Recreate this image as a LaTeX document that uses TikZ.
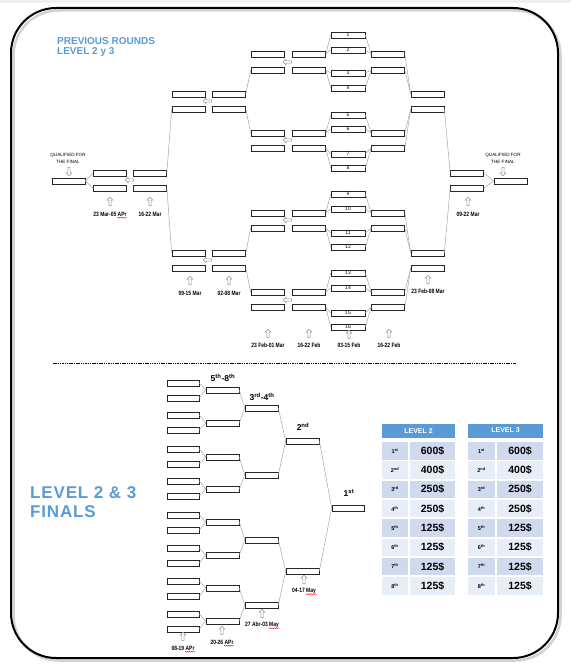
\documentclass[tikz,border=0pt]{standalone}
\usepackage{fontspec}
\setmainfont{Liberation Sans}
\newfontfamily\condfont[FakeStretch=0.8]{Liberation Sans}
\usetikzlibrary{decorations.pathmorphing, shapes.arrows}
\definecolor{titleblue}{HTML}{5B9BD5}
\definecolor{rowdark}{HTML}{CFDAEE}
\definecolor{rowlight}{HTML}{E8EEF7}
\definecolor{linkgray}{HTML}{A6A6A6}

\begin{document}
\begin{tikzpicture}[x=1pt, y=-1pt,
		slot/.style={rectangle, draw=black!85, fill=white, line width=0.7pt, minimum width=33pt, minimum height=6pt, inner sep=0pt, font=\fontsize{5}{5}\selectfont},
		link/.style={draw=linkgray, line width=0.5pt},
		hint/.style={single arrow, draw=gray!85, fill=white, line width=0.5pt, minimum height=8.5pt, minimum width=6pt, single arrow head extend=1.6pt, single arrow tip angle=90, single arrow head indent=0pt, inner sep=0.8pt},
		goleft/.style={hint, shape border rotate=180},
		goup/.style={hint, shape border rotate=90},
		godown/.style={hint, shape border rotate=270},
		when/.style={inner sep=0.5pt, font=\condfont\bfseries\fontsize{6.2}{6.2}\selectfont},
		squig/.style={red, line width=0.35pt, decorate, decoration={snake, amplitude=0.45pt, segment length=1.8pt}},
		note/.style={inner sep=0pt, font=\fontsize{4.6}{5}\selectfont},
		heading/.style={anchor=west, inner sep=0pt, text=titleblue, font=\bfseries\fontsize{10}{10}\selectfont},
		place/.style={inner sep=0pt, font=\bfseries\fontsize{8.5}{8.5}\selectfont},
		hdr/.style={rectangle, fill=titleblue, text=white, inner sep=0pt, minimum height=14pt, font=\bfseries\fontsize{7}{7}\selectfont},
		cell/.style={rectangle, inner sep=0pt, minimum height=17.5pt}
	]
		\useasboundingbox (0,0) rectangle (571,669);
		\fill[gray!12] (0,0) rectangle (571,3);
		\draw[gray!35, line width=2.5pt, rounded corners=45pt] (13.5,10.5) rectangle (560.5,660.5);
		\draw[black, line width=2pt, rounded corners=45pt] (11,8) rectangle (558,658);
		
		% Titles
		\node[heading] (prev1) at (57,41) {PREVIOUS ROUNDS};
		\node[heading] (prev2) at (57,52) {LEVEL 2 y 3};
		\node[heading, font=\bfseries\fontsize{17}{17}\selectfont\addfontfeatures{LetterSpace=5}] (fin1) at (30,493) {LEVEL 2 \& 3};
		\node[heading, font=\bfseries\fontsize{17}{17}\selectfont\addfontfeatures{LetterSpace=5}] (fin2) at (30,512) {FINALS};
		
		% Previous rounds: slots
		\node[slot] (a) at (68.5,181) {};
		\node[slot] (q) at (510.5,181) {};
		\foreach \y [count=\i] in {173,188} {
			\node[slot] (b\i) at (110,\y) {};
			\node[slot] (c\i) at (150,\y) {};
			\node[slot] (k\i) at (467,\y) {};
		}
		\foreach \y [count=\i] in {94,109,253,268} {
			\node[slot] (d\i) at (188.5,\y) {};
			\node[slot] (e\i) at (229,\y) {};
			\node[slot] (j\i) at (427.5,\y) {};
		}
		\foreach \y [count=\i] in {54,70,133,148,213,228,292,307} {
			\node[slot] (f\i) at (267.5,\y) {};
			\node[slot] (g\i) at (309,\y) {};
			\node[slot] (i\i) at (388,\y) {};
		}
		\foreach \y [count=\i] in {35,50,73,88,115,129,154,168,194,209,233,247,273,288,313,327}
			\node[slot, minimum width=34pt] (n\i) at (348,\y) {\i};
		
		% Previous rounds: links
		\draw[link] (a.east) -- (b1.west);
		\draw[link] (a.east) -- (b2.west);
		\draw[link] (c1.east) -- (d2.west);
		\draw[link] (c2.east) -- (d3.west);
		\draw[link] (e1.east) -- (f2.west);
		\draw[link] (e2.east) -- (f3.west);
		\draw[link] (e3.east) -- (f6.west);
		\draw[link] (e4.east) -- (f7.west);
		\foreach \k in {1,...,8} {
			\pgfmathtruncatemacro\u{2*\k-1}
			\pgfmathtruncatemacro\v{2*\k}
			\draw[link] (g\k.east) -- (n\u.west);
			\draw[link] (g\k.east) -- (n\v.west);
			\draw[link] (n\u.east) -- (i\k.west);
			\draw[link] (n\v.east) -- (i\k.west);
		}
		\foreach \k in {1,...,4} {
			\pgfmathtruncatemacro\u{2*\k-1}
			\pgfmathtruncatemacro\v{2*\k}
			\draw[link] (i\u.east) -- (j\k.west);
			\draw[link] (i\v.east) -- (j\k.west);
		}
		\draw[link] (j2.east) -- (k1.west);
		\draw[link] (j3.east) -- (k2.west);
		\draw[link] (k1.east) -- (q.west);
		\draw[link] (k2.east) -- (q.west);
		
		% Hints and dates
		\node[note] (qa1) at (68,155) {QUALIFIED FOR};
		\node[note] (qa2) at (68,162) {THE FINAL};
		\node[godown] (qa3) at (69,171) {};
		\node[note] (qb1) at (503,155) {QUALIFIED FOR};
		\node[note] (qb2) at (503,162) {THE FINAL};
		\node[godown] (qb3) at (503,171) {};
		\node[goleft] (h1) at (130,180) {};
		\node[goleft] (h2) at (208,101) {};
		\node[goleft] (h3) at (208,260) {};
		\node[goleft] (h4) at (288,62) {};
		\node[goleft] (h5) at (288,140) {};
		\node[goleft] (h6) at (288,220) {};
		\node[goleft] (h7) at (288,300) {};
		
		\node[goup] (u1) at (110,202) {};
		\node[when] (dl1) at (110,214) {23 Mar-05 APr};
		\node[goup] (u2) at (150,202) {};
		\node[when] (dl2) at (150,214) {16-22 Mar};
		\node[goup] (u3) at (190,281) {};
		\node[when] (dl3) at (190,293) {09-15 Mar};
		\node[goup] (u4) at (229,281) {};
		\node[when] (dl4) at (229,293) {02-08 Mar};
		\node[goup] (u5) at (268,334) {};
		\node[when] (dl5) at (268,345) {23 Feb-01 Mar};
		\node[goup] (u6) at (309,334) {};
		\node[when] (dl6) at (309,345) {16-22 Feb};
		\node[goup] (u7) at (349,335) {};
		\node[when] (dl7) at (349,345) {03-15 Feb};
		\node[goup] (u8) at (389,334) {};
		\node[when] (dl8) at (389,345) {16-22 Feb};
		\node[goup] (u9) at (428,280) {};
		\node[when] (dl9) at (428,291) {23 Feb-08 Mar};
		\node[goup] (u10) at (468,202) {};
		\node[when] (dl10) at (468,214) {09-22 Mar};
		\draw[squig] ([xshift=-10pt,yshift=-1.6pt]dl1.base east) -- ([yshift=-1.6pt]dl1.base east);
		
		\draw[black, line width=0.9pt, dash pattern=on 1.5pt off 0.8pt] (53,363) -- (516,363);
		
		% Finals: slots
		\foreach \y [count=\i] in {383,415,449,481,515,548,581,614} {
			\pgfmathtruncatemacro\u{2*\i-1}
			\pgfmathtruncatemacro\v{2*\i}
			\node[slot, minimum width=32pt] (p\u) at (183,\y) {};
			\node[slot, minimum width=32pt] (p\v) at (183,\y+15) {};
		}
		\foreach \y [count=\i] in {390,423,457,489,522,555,588,621}
			\node[slot] (r\i) at (222.5,\y) {};
		\foreach \y [count=\i] in {408,475,540,605}
			\node[slot] (s\i) at (261.5,\y) {};
		\node[slot] (t1) at (302.5,441) {};
		\node[slot] (t2) at (302.5,571) {};
		\node[slot, minimum width=32pt] (w) at (348,508) {};
		
		% Finals: links
		\foreach \k in {1,...,8} {
			\pgfmathtruncatemacro\u{2*\k-1}
			\pgfmathtruncatemacro\v{2*\k}
			\draw[link] (p\u.east) -- (r\k.west);
			\draw[link] (p\v.east) -- (r\k.west);
		}
		\foreach \k in {1,...,4} {
			\pgfmathtruncatemacro\u{2*\k-1}
			\pgfmathtruncatemacro\v{2*\k}
			\draw[link] (r\u.east) -- (s\k.west);
			\draw[link] (r\v.east) -- (s\k.west);
		}
		\draw[link] (s1.east) -- (t1.west);
		\draw[link] (s2.east) -- (t1.west);
		\draw[link] (s3.east) -- (t2.west);
		\draw[link] (s4.east) -- (t2.west);
		\draw[link] (t1.east) -- (w.west);
		\draw[link] (t2.east) -- (w.west);
		
		\node[place] (pl58) at (223,378) {5\textsuperscript{th}-8\textsuperscript{th}};
		\node[place] (pl34) at (262,397) {3\textsuperscript{rd}-4\textsuperscript{th}};
		\node[place] (pl2) at (303,427) {2\textsuperscript{nd}};
		\node[place] (pl1) at (349,493) {1\textsuperscript{st}};
		
		\node[goup] (v1) at (183,637) {};
		\node[when] (fl1) at (183,648) {08-19 APr};
		\node[goup] (v2) at (222,631) {};
		\node[when] (fl2) at (222,642) {20-26 APr};
		\node[goup] (v3) at (262,614) {};
		\node[when] (fl3) at (262,625) {27 Abr-03 May};
		\node[goup] (v4) at (304,580) {};
		\node[when] (fl4) at (304,591) {04-17 May};
		\draw[squig] ([xshift=-10pt,yshift=-1.6pt]fl1.base east) -- ([yshift=-1.6pt]fl1.base east);
		\draw[squig] ([xshift=-10pt,yshift=-1.6pt]fl2.base east) -- ([yshift=-1.6pt]fl2.base east);
		\draw[squig] ([xshift=-11pt,yshift=-1.6pt]fl3.base east) -- ([yshift=-1.6pt]fl3.base east);
		\draw[squig] ([xshift=-11pt,yshift=-1.6pt]fl4.base east) -- ([yshift=-1.6pt]fl4.base east);
		
		% Prize tables
		\node[hdr, minimum width=73pt] (lv2) at (418.5,431) {LEVEL 2};
		\node[hdr, minimum width=75pt] (lv3) at (505.5,430.5) {LEVEL 3};
		\foreach \pl/\sx/\amt/\tone [count=\r] in {1/st/600/rowdark, 2/nd/400/rowlight, 3/rd/250/rowdark, 4/th/250/rowlight, 5/th/125/rowdark, 6/th/125/rowlight, 7/th/125/rowdark, 8/th/125/rowlight} {
			\node[cell, fill=\tone, minimum width=26pt, font=\bfseries\fontsize{5.5}{5.5}\selectfont] (pa\r) at (395,431.45+19.3*\r) {\pl\textsuperscript{\sx}};
			\node[cell, fill=\tone, minimum width=45pt, font=\bfseries\fontsize{10.5}{10.5}\selectfont] (ma\r) at (432.5,431.45+19.3*\r) {\amt\$};
			\node[cell, fill=\tone, minimum width=27pt, font=\bfseries\fontsize{5.5}{5.5}\selectfont] (pb\r) at (481.5,431.45+19.3*\r) {\pl\textsuperscript{\sx}};
			\node[cell, fill=\tone, minimum width=46pt, font=\bfseries\fontsize{10.5}{10.5}\selectfont] (mb\r) at (520,431.45+19.3*\r) {\amt\$};
		}
	\end{tikzpicture}
\end{document}
